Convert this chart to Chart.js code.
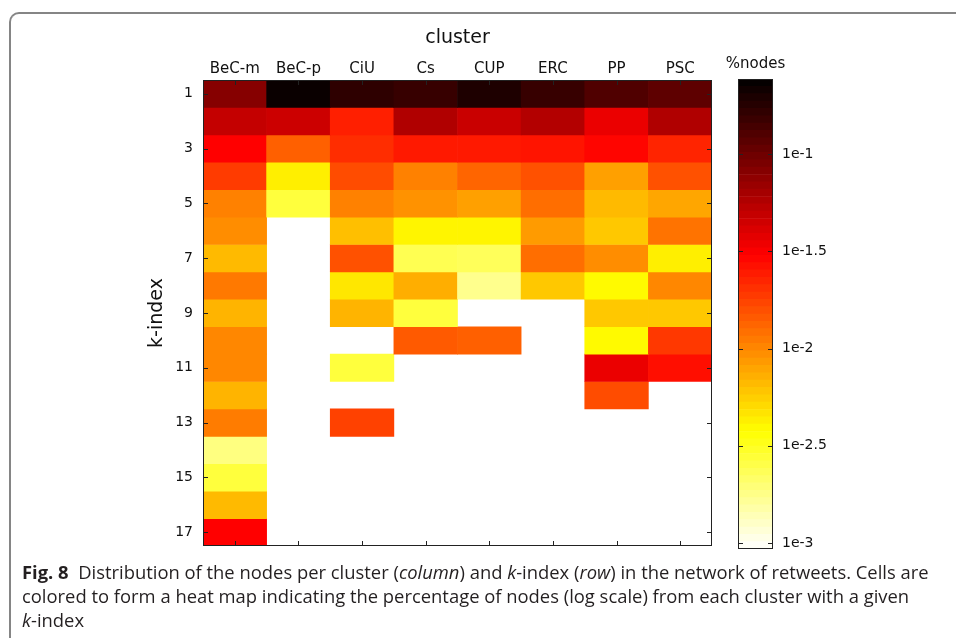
<!DOCTYPE html>
<html>
<head>
<meta charset="utf-8">
<script src="https://cdn.jsdelivr.net/npm/chart.js@4.4.0/dist/chart.umd.min.js"></script>
<style>
html, body { margin: 0; padding: 0; background: #fff; width: 956px; height: 641px; overflow: hidden; }
#frame { position: absolute; left: 9px; top: 12px; width: 970px; height: 626px; box-sizing: border-box;
         border-top: 2px solid #858585; border-left: 2px solid #858585; border-top-left-radius: 10px; }
#heat { position: absolute; left: 100px; top: 20px; }
#cbar { position: absolute; left: 700px; top: 20px; }
#caption { position: absolute; left: 22px; top: 560px; width: 930px; font-family: "Open Sans", sans-serif;
           font-size: 18.4px; line-height: 24px; color: #231f20; white-space: nowrap; }
</style>
</head>
<body>
<div id="frame"></div>
<canvas id="heat" width="620" height="530"></canvas>
<canvas id="cbar" width="180" height="540"></canvas>
<div id="caption"><b>Fig. 8</b>&nbsp; Distribution of the nodes per cluster (<i>column</i>) and <i>k</i>-index (<i>row</i>) in the network of retweets. Cells are<br>colored to form a heat map indicating the percentage of nodes (log scale) from each cluster with a given<br><i>k</i>-index</div>

<script>
// clusters (colonnes) et k-index (lignes)
const clusters = ["BeC-m", "BeC-p", "CiU", "Cs", "CUP", "ERC", "PP", "PSC"];
const kIndex = [1, 2, 3, 4, 5, 6, 7, 8, 9, 10, 11, 12, 13, 14, 15, 16, 17];
const kTicks = [1, 3, 5, 7, 9, 11, 13, 15, 17];

// log10 de la fraction de noeuds, null = case vide
const becM = [-1.09, -1.31, -1.52, -1.73, -1.98, -2.02, -2.18, -1.95, -2.16, -2.00, -2.00, -2.16, -1.96, -2.73, -2.57, -2.18, -1.52];
const becP = [-0.65, -1.34, -1.86, -2.37, -2.57, null, null, null, null, null, null, null, null, null, null, null, null];
const ciu  = [-0.78, -1.63, -1.68, -1.79, -1.98, -2.20, -1.81, -2.34, -2.16, null, -2.57, null, -1.75, null, null, null, null];
const cs   = [-0.81, -1.24, -1.61, -1.98, -2.04, -2.39, -2.62, -2.14, -2.57, -1.84, null, null, null, null, null, null, null];
const cup  = [-0.72, -1.33, -1.61, -1.88, -2.09, -2.39, -2.64, -2.76, null, -1.86, null, null, null, null, null, null, null];
const erc  = [-0.81, -1.25, -1.59, -1.81, -1.91, -2.07, -1.91, -2.23, null, null, null, null, null, null, null, null, null];
const pp   = [-0.90, -1.45, -1.54, -2.09, -2.18, -2.23, -2.02, -2.41, -2.23, -2.41, -1.45, -1.79, null, null, null, null, null];
const psc  = [-0.95, -1.24, -1.65, -1.81, -2.11, -1.93, -2.37, -2.00, -2.23, -1.72, -1.57, null, null, null, null, null, null];
const columns = [becM, becP, ciu, cs, cup, erc, pp, psc];

// échelle de couleur (log10)
const cMin = -3.03;
const cMax = -0.615;
const cbTicks = [-3, -2.5, -2, -1.5, -1];
const nLevels = 64;

// colormap "hot" inversée (blanc -> jaune -> rouge -> noir)
function hotColor(v) {
    let t = (v - cMin) / (cMax - cMin);
    t = Math.max(0, Math.min(1, t));
    const s = 1 - t;
    const clamp = x => Math.max(0, Math.min(1, x));
    const r = clamp(s / 0.375), g = clamp((s - 0.375) / 0.375), b = clamp((s - 0.75) / 0.25);
    return `rgb(${Math.round(r * 255)},${Math.round(g * 255)},${Math.round(b * 255)})`;
}

// petits traits vers l'intérieur + cadre, comme Matlab
const matlabBox = {
    id: 'matlabBox',
    afterDraw(chart, args, opts) {
        const { ctx, chartArea: a } = chart;
        const len = 5;
        ctx.save();
        ctx.strokeStyle = '#222';
        ctx.lineWidth = 1;
        ctx.beginPath();
        if (opts.xTicks) {
            const xs = chart.scales.x;
            xs.ticks.forEach((t, i) => {
                const x = Math.round(xs.getPixelForTick(i)) + 0.5;
                ctx.moveTo(x, a.top); ctx.lineTo(x, a.top + len);
                ctx.moveTo(x, a.bottom); ctx.lineTo(x, a.bottom - len);
            });
        }
        const ys = chart.scales.y;
        ys.ticks.forEach((t, i) => {
            const y = Math.round(ys.getPixelForTick(i)) + 0.5;
            ctx.moveTo(a.left, y); ctx.lineTo(a.left + len, y);
            ctx.moveTo(a.right, y); ctx.lineTo(a.right - len, y);
        });
        ctx.stroke();
        ctx.strokeRect(Math.round(a.left) + 0.5, Math.round(a.top) + 0.5,
                       Math.round(a.right - a.left) - 1, Math.round(a.bottom - a.top) - 1);
        ctx.restore();
    }
};

const fam = '"DejaVu Sans", sans-serif';
const labelFont = { family: fam, size: 14 };
Chart.defaults.color = '#111';
Chart.defaults.animation = false;

// pas de marge automatique pour les étiquettes extrêmes
const noEdgePad = s => { s.paddingTop = 0; s.paddingBottom = 0; s.paddingLeft = 0; s.paddingRight = 0; };

// heat map : une série par k-index, barres flottantes [k-0.5, k+0.5]
const heatDatasets = kIndex.map((k, r) => ({
    label: 'k=' + k,
    data: clusters.map((c, j) => columns[j][r] === null ? null : [k - 0.5, k + 0.5]),
    backgroundColor: clusters.map((c, j) => columns[j][r] === null ? 'transparent' : hotColor(columns[j][r])),
    borderWidth: 0,
    barPercentage: 1,
    categoryPercentage: 1,
    grouped: false
}));

new Chart(document.getElementById('heat'), {
    type: 'bar',
    data: { labels: clusters, datasets: heatDatasets },
    options: {
        responsive: false,
        layout: { padding: { left: 0, top: 0, right: 8, bottom: 4 } },
        plugins: { legend: { display: false }, tooltip: { enabled: false }, matlabBox: { xTicks: true } },
        scales: {
            x: {
                position: 'top',
                grid: { display: false, drawTicks: false },
                border: { display: false },
                ticks: { font: { family: fam, size: 15 }, padding: 2, maxRotation: 0 },
                title: { display: true, text: 'cluster', font: { family: fam, size: 19 }, padding: { top: 7, bottom: 0 } },
                afterFit: s => { noEdgePad(s); s.height = 60; }
            },
            y: {
                type: 'linear',
                min: 0.5,
                max: 17.5,
                reverse: true,
                grid: { display: false, drawTicks: false },
                border: { display: false },
                ticks: { font: labelFont, padding: 10 },
                afterBuildTicks: s => { s.ticks = kTicks.map(v => ({ value: v })); },
                title: { display: true, text: 'k-index', font: { family: fam, size: 19 }, padding: { top: 46, bottom: 0 } },
                afterFit: s => { noEdgePad(s); s.width = 103; }
            }
        }
    },
    plugins: [matlabBox]
});

// barre de couleur
const cbDatasets = [];
for (let i = 0; i < nLevels; i++) {
    const lo = cMin + i * (cMax - cMin) / nLevels;
    const hi = cMin + (i + 1) * (cMax - cMin) / nLevels;
    cbDatasets.push({
        data: [[lo, hi]],
        backgroundColor: hotColor((lo + hi) / 2),
        borderWidth: 0,
        barPercentage: 1,
        categoryPercentage: 1,
        grouped: false
    });
}

new Chart(document.getElementById('cbar'), {
    type: 'bar',
    data: { labels: ['%nodes'], datasets: cbDatasets },
    options: {
        responsive: false,
        layout: { padding: { left: 38, top: 0, right: 0, bottom: 11 } },
        plugins: { legend: { display: false }, tooltip: { enabled: false }, matlabBox: { xTicks: false } },
        scales: {
            x: {
                position: 'top',
                grid: { display: false, drawTicks: false },
                border: { display: false },
                // le libellé de la catégorie sert de titre à la barre
                ticks: { font: { family: fam, size: 15 }, padding: 6, maxRotation: 0, minRotation: 0, autoSkip: false },
                afterFit: s => { noEdgePad(s); s.height = 59; }
            },
            y: {
                type: 'linear',
                position: 'right',
                min: cMin,
                max: cMax,
                grid: { display: false, drawTicks: false },
                border: { display: false },
                ticks: { font: labelFont, padding: 9, callback: v => '1e' + v },
                afterBuildTicks: s => { s.ticks = cbTicks.map(v => ({ value: v })); },
                afterFit: s => { noEdgePad(s); s.width = 107; }
            }
        }
    },
    plugins: [matlabBox]
});
</script>
</body>
</html>
